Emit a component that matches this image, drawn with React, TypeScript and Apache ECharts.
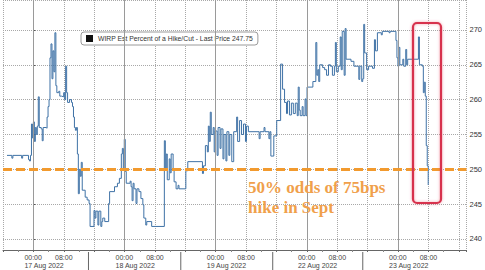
import React, { useEffect, useRef } from "react";
import * as echarts from "echarts";

// hours since 17 Aug 2022 00:00 (trading days concatenated, weekend removed)
const hours = [
  -6.95, -5.66, -5.4, -3.09, -2.83, -1.29, -1.03, -0.77, -0.51, -0.26, 0, 0.26, 0.51, 0.77, 1.03, 1.29, 1.54, 2.06, 2.32, 2.57,
  3.34, 3.6, 3.86, 4.12, 4.37, 4.63, 4.89, 5.14, 5.4, 5.66, 5.92, 6.17, 6.69, 6.95, 7.46, 7.97, 8.23, 8.49, 8.75, 9.0,
  9.52, 10.03, 10.29, 10.55, 10.8, 11.06, 11.32, 11.58, 11.83, 12.09, 12.35, 12.6, 12.86, 13.63, 14.15, 14.66, 14.92, 15.95, 16.21, 16.46,
  16.98, 17.23, 17.75, 18.01, 18.26, 18.78, 19.81, 20.06, 21.35, 22.12, 22.64, 23.15, 23.41, 23.67, 23.92, 24.18, 24.44, 25.47, 25.72, 25.98,
  26.24, 26.5, 27.01, 27.27, 27.78, 28.3, 28.81, 29.07, 29.58, 29.84, 31.13, 34.47, 34.73, 34.98, 35.24, 35.76, 36.01, 36.27, 36.78, 37.04,
  37.56, 38.07, 38.33, 40.13, 40.64, 44.5, 44.76, 45.27, 45.79, 46.05, 46.3, 46.56, 46.82, 47.33, 47.59, 47.85, 48.36, 48.62, 49.13, 49.39,
  49.9, 50.16, 50.68, 50.93, 51.45, 51.7, 52.22, 52.73, 53.5, 53.76, 54.28, 54.79, 55.31, 55.82, 56.08, 56.59, 59.42, 59.68, 60.71, 60.96,
  61.99, 62.25, 62.51, 63.28, 64.05, 65.08, 65.59, 66.11, 66.62, 66.88, 67.4, 67.91, 68.42, 68.94, 69.45, 69.71, 69.97, 70.23, 70.74, 71.0,
  71.51, 71.77, 72.03, 73.57, 74.34, 74.6, 74.86, 75.11, 75.37, 76.14, 76.66, 77.17, 77.68, 78.2, 78.71, 79.23, 79.49, 79.74, 80.26, 80.77,
  81.03, 81.29, 81.8, 82.06, 82.31, 83.6, 84.37, 85.66, 85.92, 86.43, 86.69, 86.95, 87.2, 87.72, 88.23, 89.26, 89.77, 90.03, 90.55, 91.58,
  91.83, 93.63, 93.89, 95.43, 95.69, 95.95, 96.21, 96.46, 97.24, 97.49, 98.01, 98.26, 98.52, 101.35, 101.61, 102.38, 102.64, 102.89, 103.15, 103.41,
  103.67, 103.92,
];

const values = [
  252.0, 251.6, 252.0, 251.6, 252.0, 251.4, 251.2, 252.0, 256.5, 254.5, 256.8, 254.0, 256.0, 255.0, 256.2, 260.4, 256.0, 255.8, 254.1, 256.0,
  255.9, 257.5, 259.0, 260.0, 266.0, 268.0, 263.0, 267.0, 264.0, 269.6, 262.0, 261.0, 261.2, 260.5, 260.4, 261.0, 260.0, 264.8, 261.0, 259.6,
  260.0, 259.6, 259.0, 257.5, 256.0, 255.6, 256.0, 252.2, 246.5, 250.0, 249.0, 251.0, 247.0, 246.0, 245.6, 245.1, 241.8, 244.1, 243.0, 244.0,
  242.0, 244.0, 241.8, 242.5, 243.0, 242.5, 245.1, 246.8, 247.5, 248.0, 248.7, 252.2, 253.0, 250.0, 254.3, 249.7, 248.0, 248.3, 247.5, 245.5,
  248.0, 247.2, 245.1, 247.2, 246.8, 245.8, 244.9, 243.0, 242.0, 242.5, 241.8, 254.1, 250.0, 252.2, 248.5, 251.5, 249.5, 252.2, 250.0, 248.2,
  247.2, 247.7, 247.2, 249.8, 251.1, 249.4, 250.5, 253.4, 252.5, 256.2, 254.0, 258.2, 255.0, 256.0, 252.5, 255.5, 252.0, 256.0, 253.0, 255.8,
  251.5, 255.0, 251.2, 255.4, 252.0, 255.0, 251.1, 255.4, 257.5, 254.0, 257.0, 255.0, 256.5, 254.0, 256.2, 255.4, 254.4, 255.4, 256.0, 255.4,
  254.4, 255.4, 251.9, 254.8, 257.0, 265.1, 261.5, 259.6, 258.0, 259.8, 257.8, 259.5, 258.0, 259.5, 257.7, 261.8, 258.5, 257.7, 259.0, 257.7,
  260.1, 257.7, 261.8, 262.6, 268.2, 263.5, 264.3, 262.6, 265.0, 264.6, 264.3, 263.5, 265.0, 264.8, 263.5, 264.8, 268.2, 264.0, 264.8, 269.0,
  264.3, 269.8, 263.5, 270.2, 265.8, 265.5, 264.8, 262.9, 264.8, 262.6, 263.0, 270.8, 266.7, 264.3, 264.8, 264.5, 268.6, 267.0, 269.6, 269.3,
  269.8, 269.6, 269.8, 268.5, 266.0, 264.8, 267.5, 265.0, 265.8, 264.8, 267.2, 265.0, 265.8, 269.0, 265.0, 264.8, 261.0, 262.5, 260.5, 253.4,
  250.5, 247.75,
];

const dayLabels = ["17 Aug 2022", "18 Aug 2022", "19 Aug 2022", "22 Aug 2022", "23 Aug 2022"];
const dayStarts = [0, 24, 48, 72, 96];
const separatorHours = [14.5, 38.8, 63.0, 86.7];
const seriesName = "WIRP Est Percent of a Hike/Cut - Last Price 247.75";
const thresholdValue = 250;
const annotation = "50% odds of 75bps\nhike in Sept";

export default function App() {
  const ref = useRef<HTMLDivElement>(null);
  useEffect(() => {
    if (!ref.current) return;
    const chart = echarts.init(ref.current, null, { renderer: "svg" });
    const data = hours.map((h, i) => [h, values[i]]);
    const last = values[values.length - 1];
    const font = "Liberation Sans";
    const option: any = {
      animation: false,
      grid: { left: -4, right: 15, top: 0, bottom: 18 },
      legend: {
        left: 81,
        top: 32,
        data: [{ name: seriesName, itemStyle: { color: "#111" } }],
        icon: "rect",
        itemWidth: 7,
        itemHeight: 7,
        itemGap: 4,
        backgroundColor: "#fff",
        borderColor: "#9a9a9a",
        borderWidth: 1,
        borderRadius: 3,
        padding: [3, 5, 3, 5],
        textStyle: { fontSize: 6.8, color: "#333", fontFamily: font },
      },
      xAxis: {
        type: "value",
        min: -8,
        max: 114,
        interval: 8,
        axisLine: { show: true, lineStyle: { color: "#666", width: 1 } },
        axisTick: { show: true, length: 2, lineStyle: { color: "#666" } },
        minorTick: { show: true, splitNumber: 2, length: 2, lineStyle: { color: "#888" } },
        splitLine: { show: true, lineStyle: { color: "#a8a8a8", type: "dotted", width: 1 } },
        axisLabel: {
          margin: 3,
          color: "#444",
          fontSize: 7,
          fontFamily: font,
          lineHeight: 8.5,
          formatter: (v: number) => {
            const hr = ((v % 24) + 24) % 24;
            if (hr === 0) {
              const idx = Math.round(v / 24);
              const d = dayLabels[idx] || "";
              return `{a|00:00}\n{b|${d}}`;
            }
            if (hr === 8) return "{c|08:00}";
            return "";
          },
          rich: {
            a: { width: 18, align: "left", fontSize: 7, color: "#444", fontFamily: font, lineHeight: 8.5 },
            b: { width: 18, align: "left", fontSize: 7, color: "#444", fontFamily: font, lineHeight: 8.5 },
            c: { fontSize: 7, color: "#444", fontFamily: font, lineHeight: 8.5 },
          },
        },
      },
      yAxis: {
        type: "value",
        position: "right",
        min: 238.42,
        max: 274.3,
        splitNumber: 7,
        scale: true,
        axisLine: { show: true, lineStyle: { color: "#777", width: 1 } },
        axisTick: { show: true, length: 2, lineStyle: { color: "#555" } },
        splitLine: { show: true, lineStyle: { color: "#a8a8a8", type: "dotted", width: 1 } },
        axisLabel: {
          showMinLabel: false,
          showMaxLabel: false,
          margin: 3,
          color: "#333",
          fontSize: 7.5,
          fontFamily: font,
        },
      },
      series: [
        {
          name: seriesName,
          type: "line",
          step: "end",
          data,
          symbol: "none",
          lineStyle: { color: "#3f72a6", width: 1 },
          itemStyle: { color: "#111" },
          z: 3,
          markLine: {
            silent: true,
            symbol: "none",
            animation: false,
            data: [
              ...dayStarts.map((d) => ({
                xAxis: d,
                lineStyle: { color: "#9a9a9a", width: 1, type: "solid" },
                label: { show: false },
              })),
              {
                yAxis: thresholdValue,
                lineStyle: { color: "#f29a2e", width: 3, type: [9, 4] },
                label: { show: false },
              },
              {
                yAxis: last,
                lineStyle: { opacity: 0, width: 0 },
                label: {
                  show: true,
                  position: "end",
                  distance: 2,
                  formatter: String(last),
                  backgroundColor: "#111",
                  color: "#fff",
                  fontSize: 6.5,
                  fontWeight: "bold",
                  fontFamily: font,
                  padding: [1, 2, 1, 2],
                  borderRadius: 2,
                },
              },
            ],
          },
        },
      ],
      graphic: [],
    };
    chart.setOption(option);

    const seps = separatorHours.map((h, i) => {
      const px = chart.convertToPixel({ xAxisIndex: 0 }, h) as number;
      return {
        id: "sep" + i,
        type: "line",
        shape: { x1: px, y1: 252, x2: px, y2: 270 },
        style: { stroke: "#666", lineWidth: 1 },
        silent: true,
      };
    });
    chart.setOption({
      graphic: [
        ...seps,
        {
          id: "box",
          type: "rect",
          shape: { x: 413, y: 23, width: 28, height: 180, r: 4 },
          style: {
            fill: "rgba(0,0,0,0)",
            stroke: "#d7334e",
            lineWidth: 2.2,
            shadowBlur: 3,
            shadowColor: "rgba(230,80,100,0.5)",
          },
          z: 10,
          silent: true,
        },
        {
          id: "note",
          type: "text",
          x: 248,
          y: 177,
          style: {
            text: annotation,
            fill: "#f0a04b",
            font: 'bold 17px "Liberation Serif"',
            lineHeight: 20,
            textVerticalAlign: "top",
          },
          z: 10,
          silent: true,
        },
      ],
    });
    return () => chart.dispose();
  }, []);
  return <div ref={ref} style={{ width: 485, height: 270, position: "absolute", left: 0, top: 0, background: "#fff" }} />;
}
